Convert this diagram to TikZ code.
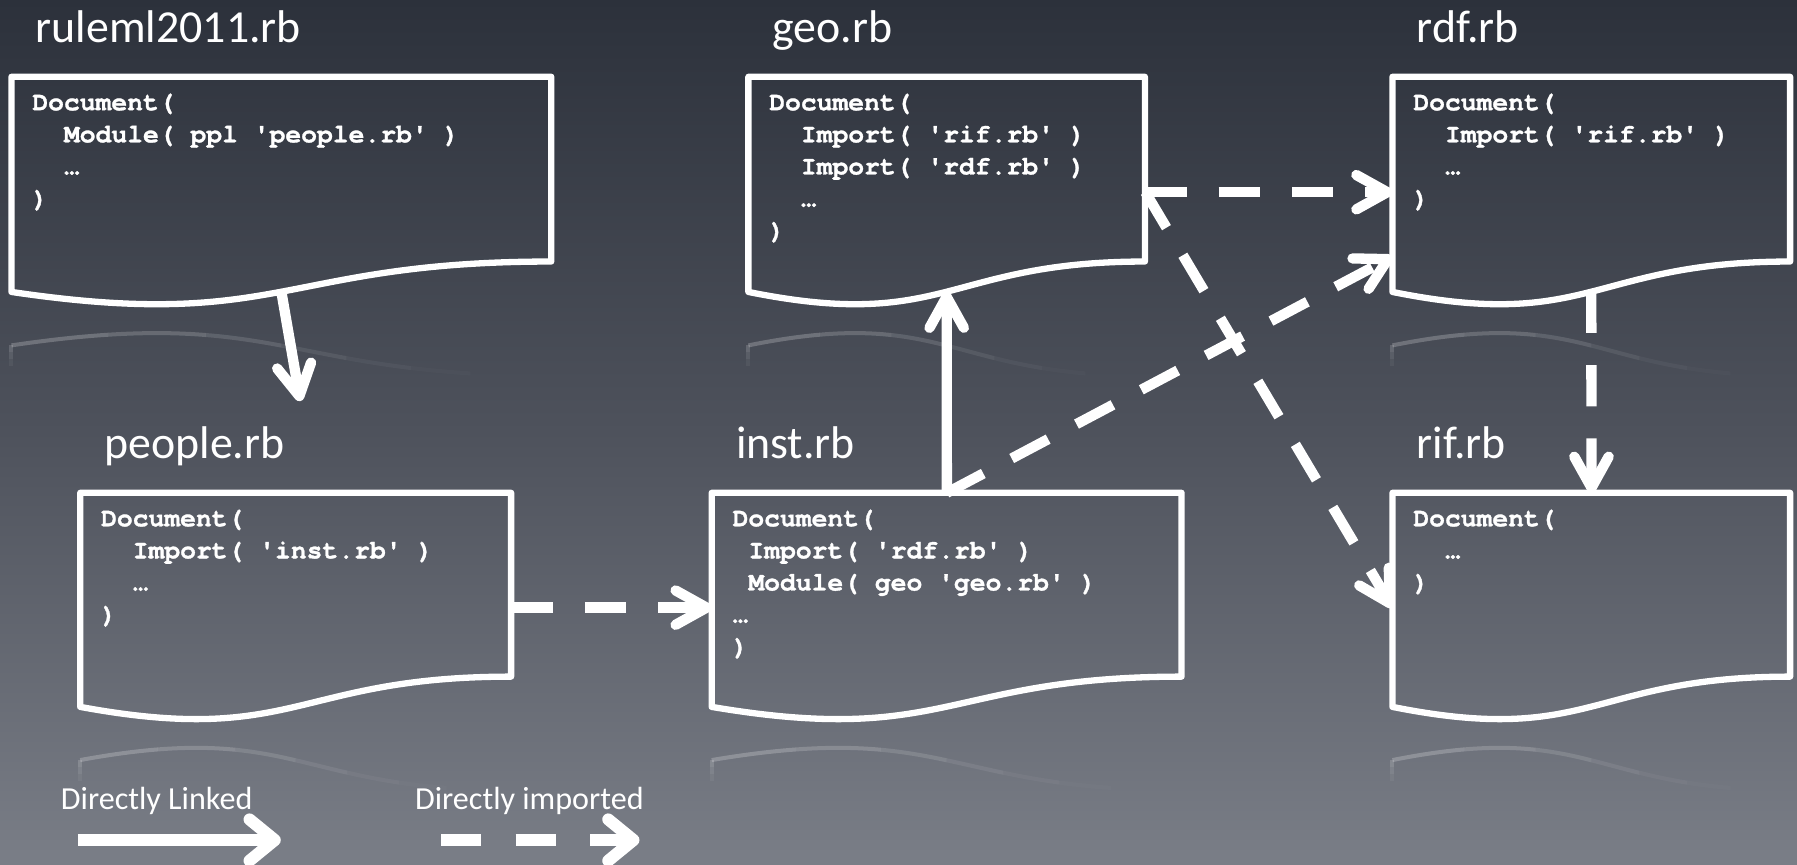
\documentclass[tikz,border=0pt]{standalone}
\usepackage{fontspec}
\setmainfont{Carlito}
\newfontfamily\codefont{TeX Gyre Cursor}[BoldFeatures={FakeBold=1.2}]
\usetikzlibrary{arrows.meta,calc}
\definecolor{bgtop}{HTML}{2C313B}
\definecolor{bgmid}{HTML}{4E525C}
\definecolor{bgbot}{HTML}{7A7E87}
\newcommand\fs{\rule{0pt}{20pt}}
\newcommand\ind{\phantom{MM}}
\newcommand\sq{\textquotesingle}
\newcommand\docbox[5]{%
  \node[inner sep=0pt, minimum width=#4pt, minimum height=#5pt, anchor=north west] (#1) at (#2,#3) {};
  \foreach \ra/\rb/\ro in {0/0.18/0.22, 0.18/0.36/0.18, 0.36/0.5/0.13, 0.5/0.62/0.08, 0.62/0.74/0.045, 0.74/0.85/0.02} {
    \begin{scope}
      \clip ({#2+\ra*#4-(\ra==0)*5},{#3+0.95*#5}) rectangle ({#2+\rb*#4},{#3+1.45*#5});
      \draw[white, opacity=\ro, line width=3.5pt]
        (#2,{#3+1.166*#5}) .. controls ({#2+0.5*#4},{#3+0.9925*#5}) and ({#2+0.5*#4},{#3+1.298*#5}) .. ({#2+#4},{#3+1.298*#5});
    \end{scope}
  }
  \foreach \sa/\sb/\so in {0/6/0.16, 6/12/0.1, 12/18/0.05} {
    \draw[white, opacity=\so, line width=3.5pt] (#2,{#3+1.166*#5+\sa}) -- (#2,{#3+1.166*#5+\sb});
  }
  \draw[boxline] ({#2+#4},{#3+0.802*#5}) -- ({#2+#4},#3) -- (#2,#3) -- (#2,{#3+0.934*#5})
    .. controls ({#2+0.5*#4},{#3+1.1075*#5}) and ({#2+0.5*#4},{#3+0.802*#5}) .. ({#2+#4},{#3+0.802*#5}) -- cycle;
  \coordinate (#1-b) at ({#2+0.5*#4},{#3+0.933*#5});
}
\begin{document}
\begin{tikzpicture}[x=1pt, y={(0pt,-1pt)},
  boxline/.style={draw=white, line width=5.5pt, line join=round},
  link/.style={draw=white, line width=9pt, -{Straight Barb[length=27pt,width=30pt,round]}},
  imp/.style={link, dash pattern=on 36pt off 28pt},
  legendlink/.style={draw=white, line width=10.5pt, -{Straight Barb[length=22pt,width=36pt,round]}},
  legendimp/.style={legendlink, dash pattern=on 35pt off 30pt},
  title/.style={font=\fontsize{40}{48}\selectfont, text=white, inner sep=0pt, anchor=base west},
  legendtext/.style={font=\fontsize{28}{34}\selectfont, text=white, inner sep=0pt, anchor=base west},
  code/.style={font=\codefont\bfseries\fontsize{23}{28}\selectfont, text=white, inner sep=0pt, anchor=north west, align=left}]
\useasboundingbox (0,0) rectangle (1568,754);
\shade[top color=bgtop, bottom color=bgbot, middle color=bgmid] (0,0) rectangle (1568,754);

% boxes
\docbox{ruleml}{10}{67}{471}{201}
\docbox{geo}{653}{67}{346}{201}
\docbox{rdf}{1215}{67}{347}{201}
\docbox{people}{70}{430}{376}{200}
\docbox{inst}{621}{430}{410}{200}
\docbox{rif}{1215}{430}{347}{200}

% titles
\node[title] (t-ruleml) at (31,37) {ruleml2011.rb};
\node[title] (t-geo) at (674,37) {geo.rb};
\node[title] (t-rdf) at (1236,37) {rdf.rb};
\node[title] (t-people) at (91,400) {people.rb};
\node[title] (t-inst) at (642,400) {inst.rb};
\node[title] (t-rif) at (1236,400) {rif.rb};

% code
\node[code] (c-ruleml) at (28,76) {\fs Document(\\ \ind Module( ppl \sq people.rb\sq\ )\\ \ind …\\ )};
\node[code] (c-geo) at (671,76) {\fs Document(\\ \ind Import( \sq rif.rb\sq\ )\\ \ind Import( \sq rdf.rb\sq\ )\\ \ind …\\ )};
\node[code] (c-rdf) at (1233,76) {\fs Document(\\ \ind Import( \sq rif.rb\sq\ )\\ \ind …\\ )};
\node[code] (c-people) at (88,439) {\fs Document(\\ \ind Import( \sq inst.rb\sq\ )\\ \ind …\\ )};
\node[code] (c-inst) at (639,439) {\fs Document(\\ \phantom{M}Import( \sq rdf.rb\sq\ )\\ \phantom{M}Module( geo \sq geo.rb\sq\ )\\ …\\ )};
\node[code] (c-rif) at (1233,439) {\fs Document(\\ \ind …\\ )};

% connectors
\coordinate (pplend) at (262,350);
\coordinate (rdfin) at (1215,224);
\draw[link] (ruleml-b) -- (pplend);
\draw[link] (inst.north) -- (geo-b);
\draw[imp] (inst.north) -- (rdfin);
\draw[imp] (geo.east) -- (rdf.west);
\draw[imp] (geo.east) -- (rif.west);
\draw[imp] (rdf-b) -- (rif.north);
\draw[imp] (people.east) -- (inst.west);

% legend
\node[legendtext] (leg1) at (53,706) {Directly Linked};
\node[legendtext] (leg2) at (362,706) {Directly imported};
\coordinate (leg1a) at (68,733);
\coordinate (leg1b) at (245,733);
\coordinate (leg2a) at (385,733);
\coordinate (leg2b) at (558,733);
\draw[legendlink] (leg1a) -- (leg1b);
\draw[legendimp] (leg2a) -- (leg2b);
\end{tikzpicture}
\end{document}
